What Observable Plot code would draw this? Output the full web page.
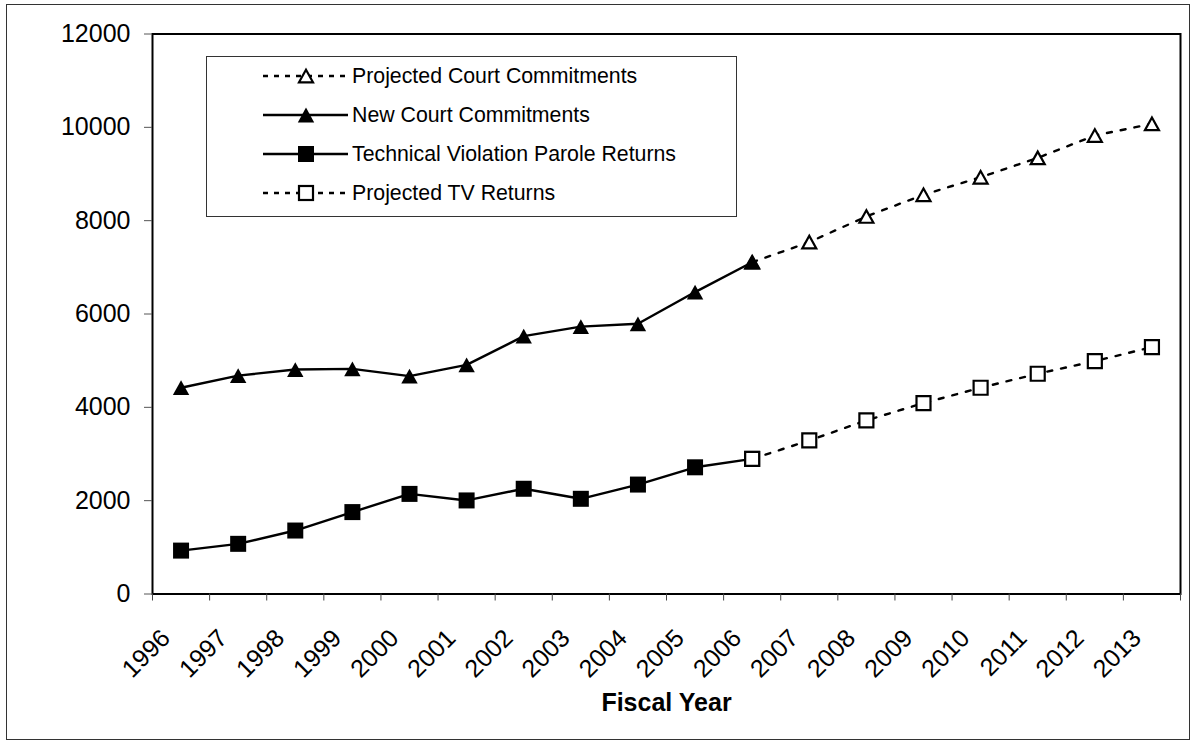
<!DOCTYPE html>
<html>
<head>
<meta charset="utf-8">
<script src="https://cdn.jsdelivr.net/npm/d3@7"></script>
<script src="https://cdn.jsdelivr.net/npm/@observablehq/plot@0.6"></script>
<style>
  html, body { margin: 0; padding: 0; background: #fff; }
  #wrap { position: relative; width: 1196px; height: 744px; background: #fff; font-family: "Liberation Sans", Arial, sans-serif; }
  #outer { position: absolute; left: 6px; top: 4px; width: 1182px; height: 734px; border: 1px solid #333; pointer-events: none; }
  #legend { position: absolute; left: 206px; top: 56px; }
</style>
</head>
<body>
<div id="wrap">
  <div id="chart"></div>
  <div id="outer"></div>
  <svg id="legend" width="532" height="162"></svg>
</div>
<script>
// ---- data ----
const years = ["1996","1997","1998","1999","2000","2001","2002","2003","2004","2005","2006","2007","2008","2009","2010","2011","2012","2013"];
const newCourtYears = ["1996","1997","1998","1999","2000","2001","2002","2003","2004","2005","2006"];
const newCourt = [4420, 4680, 4810, 4825, 4670, 4910, 5525, 5730, 5790, 6470, 7110];
const projCourtYears = ["2006","2007","2008","2009","2010","2011","2012","2013"];
const projCourt = [7110, 7540, 8090, 8555, 8930, 9345, 9825, 10075];
const tvYears = ["1996","1997","1998","1999","2000","2001","2002","2003","2004","2005","2006"];
const tvReturns = [930, 1075, 1360, 1755, 2145, 2005, 2255, 2040, 2345, 2715, 2895];
const projTVYears = ["2006","2007","2008","2009","2010","2011","2012","2013"];
const projTV = [2895, 3290, 3720, 4090, 4420, 4720, 4990, 5290];
const yTicks = [0, 2000, 4000, 6000, 8000, 10000, 12000];
const seriesNames = ["Projected Court Commitments", "New Court Commitments", "Technical Violation Parole Returns", "Projected TV Returns"];

// category position: centre of each year's band
const pos = y => years.indexOf(y) + 0.5;
const rows = (ys, vs) => ys.map((y, k) => ({x: pos(y), v: vs[k]}));
const dNew = rows(newCourtYears, newCourt);
const dProjC = rows(projCourtYears, projCourt);
const dTV = rows(tvYears, tvReturns);
const dProjTV = rows(projTVYears, projTV);

// triangle centred on its bounding box
const tri = {
  draw(ctx, size) {
    const r = Math.sqrt(size / Math.PI);
    const h = r * 0.9;
    ctx.moveTo(0, -h); ctx.lineTo(r, h); ctx.lineTo(-r, h); ctx.closePath();
  }
};

const dash = "5,9";
const legendDash = "5,6";
const lw = 2.4;
const font = "'Liberation Sans', Arial, sans-serif";

const chart = Plot.plot({
  width: 1196,
  height: 744,
  marginLeft: 152,
  marginRight: 16,
  marginTop: 33.5,
  marginBottom: 150.5,
  style: {fontFamily: font, background: "transparent", color: "black", overflow: "visible"},
  x: {domain: [0, years.length]},
  y: {domain: [0, 12000]},
  marks: [
    Plot.frame({stroke: "black", strokeWidth: 2}),
    Plot.axisY({ticks: yTicks, tickSize: 8, tickPadding: 14, fontSize: 25, stroke: "#555", fill: "black", label: null, tickFormat: d => String(d)}),
    Plot.axisX({ticks: d3.range(0, years.length + 1), tickSize: 7, tickFormat: () => "", stroke: "#444", label: null}),
    Plot.axisX({ticks: years.map((y, i) => i + 0.5), tickSize: 0, tickPadding: 33, tickRotate: -45,
      textAnchor: "end", lineAnchor: "top", dx: -22, fontSize: 25, fill: "black", label: null,
      tickFormat: d => years[Math.round(d - 0.5)]}),
    Plot.text(["Fiscal Year"], {frameAnchor: "bottom", dy: 117, fontSize: 25, fontWeight: "bold", fill: "black"}),

    Plot.line(dProjC, {x: "x", y: "v", stroke: "black", strokeWidth: lw, strokeDasharray: dash}),
    Plot.dot(dProjC, {x: "x", y: "v", symbol: tri, r: 7, fill: "white", stroke: "black", strokeWidth: 2.2}),
    Plot.line(dNew, {x: "x", y: "v", stroke: "black", strokeWidth: lw}),
    Plot.dot(dNew, {x: "x", y: "v", symbol: tri, r: 8.2, fill: "black", stroke: "none"}),
    Plot.line(dTV, {x: "x", y: "v", stroke: "black", strokeWidth: lw}),
    Plot.dot(dTV, {x: "x", y: "v", symbol: "square", r: 9.03, fill: "black", stroke: "none"}),
    Plot.line(dProjTV, {x: "x", y: "v", stroke: "black", strokeWidth: lw, strokeDasharray: dash}),
    Plot.dot(dProjTV, {x: "x", y: "v", symbol: "square", r: 7.9, fill: "white", stroke: "black", strokeWidth: 2.2})
  ]
});
document.getElementById("chart").appendChild(chart);

// ---- legend ----
const lg = d3.select("#legend");
lg.append("rect").attr("x", 0.5).attr("y", 0.5).attr("width", 530).attr("height", 160)
  .attr("fill", "white").attr("stroke", "#333").attr("stroke-width", 1);
const legendStyles = [
  {dashed: true, shape: "tri", filled: false},
  {dashed: false, shape: "tri", filled: true},
  {dashed: false, shape: "sq", filled: true},
  {dashed: true, shape: "sq", filled: false}
];
const rowY = [20, 59, 98, 137];
seriesNames.forEach((name, i) => {
  const st = legendStyles[i];
  const cy = rowY[i];
  const g = lg.append("g");
  g.append("line").attr("x1", 57).attr("x2", 142).attr("y1", cy).attr("y2", cy)
    .attr("stroke", "black").attr("stroke-width", lw).attr("stroke-dasharray", st.dashed ? legendDash : null);
  const mx = 100;
  if (st.shape === "tri") {
    const r = st.filled ? 8.2 : 7, h = r * 0.9;
    g.append("path").attr("d", `M${mx},${cy - h}L${mx + r},${cy + h}L${mx - r},${cy + h}Z`)
      .attr("fill", st.filled ? "black" : "white").attr("stroke", st.filled ? "none" : "black").attr("stroke-width", 2.2);
  } else {
    const s = st.filled ? 16 : 14;
    g.append("rect").attr("x", mx - s / 2).attr("y", cy - s / 2).attr("width", s).attr("height", s)
      .attr("fill", st.filled ? "black" : "white").attr("stroke", st.filled ? "none" : "black").attr("stroke-width", 2.2);
  }
  g.append("text").attr("x", 146).attr("y", cy).attr("dy", "0.35em")
    .attr("font-family", font).attr("font-size", 21.3).attr("fill", "black").text(name);
});
</script>
</body>
</html>
